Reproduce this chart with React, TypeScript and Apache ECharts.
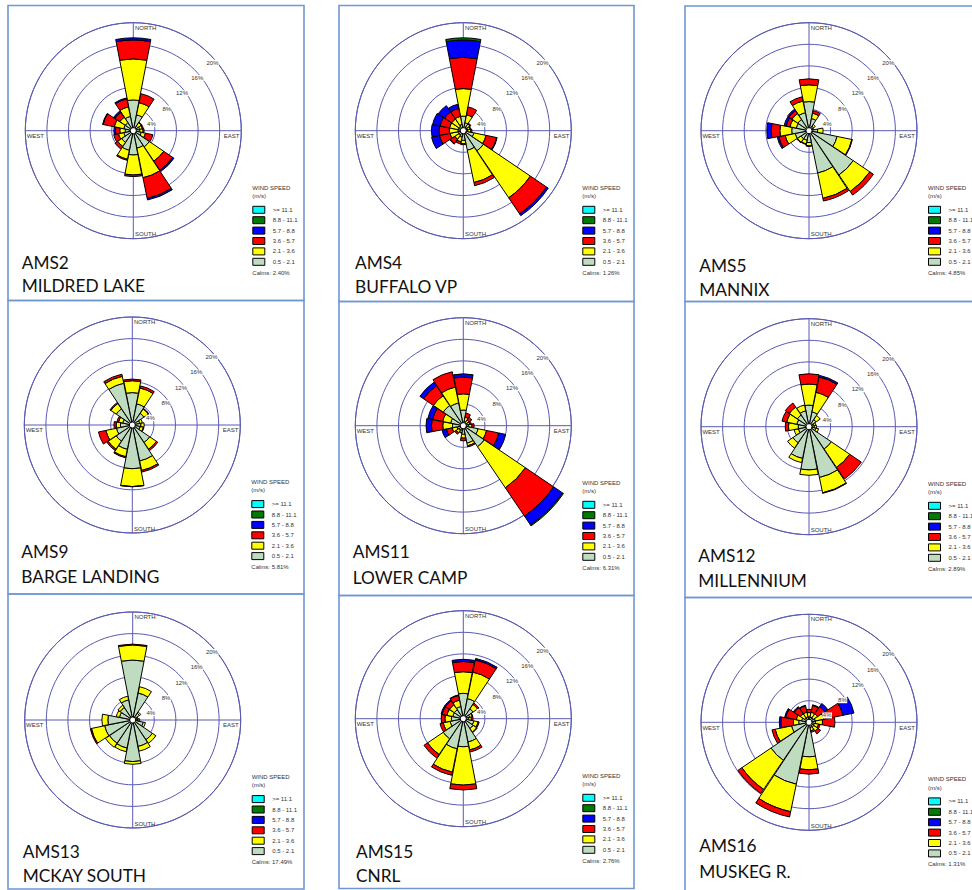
import React, { useEffect, useRef } from 'react';
import * as echarts from 'echarts';

// ---------- categories / labels ----------
const directions = ['N', 'NNE', 'NE', 'ENE', 'E', 'ESE', 'SE', 'SSE', 'S', 'SSW', 'SW', 'WSW', 'W', 'WNW', 'NW', 'NNW'];
const speedClasses = ['0.5 - 2.1', '2.1 - 3.6', '3.6 - 5.7', '5.7 - 8.8', '8.8 - 11.1', '>= 11.1'];
const ringTicks = [4, 8, 12, 16, 20];
const compassLabels = ['NORTH', 'EAST', 'SOUTH', 'WEST'];

const stationIds = ['AMS2', 'AMS4', 'AMS5', 'AMS9', 'AMS11', 'AMS12', 'AMS13', 'AMS15', 'AMS16'];
const stationNames = ['MILDRED LAKE', 'BUFFALO VP', 'MANNIX', 'BARGE LANDING', 'LOWER CAMP', 'MILLENNIUM', 'MCKAY SOUTH', 'CNRL', 'MUSKEG R.'];
const calms = ['2.40', '1.26', '4.85', '5.81', '6.31', '2.89', '17.49', '2.76', '1.31'];

// ---------- frequencies (%) by direction, one array per speed class ----------
const zeros = [0, 0, 0, 0, 0, 0, 0, 0, 0, 0, 0, 0, 0, 0, 0, 0];

const ams2_05 = [5.7, 3.0, 1.0, 1.2, 1.2, 1.5, 3.6, 3.3, 4.5, 3.7, 2.6, 1.8, 1.5, 1.8, 1.8, 2.7];
const ams2_21 = [7.6, 2.3, 0.8, 0.5, 0.6, 0.8, 3.2, 5.6, 3.7, 1.7, 0.9, 1.0, 1.0, 1.8, 1.2, 1.8];
const ams2_36 = [3.5, 1.7, 0.1, 0.2, 0.2, 1.4, 2.0, 3.9, 0.3, 0.2, 0.6, 0.9, 0.8, 2.1, 1.1, 1.5];
const ams2_57 = [0.4, 0, 0, 0, 0, 0, 0.3, 0.3, 0, 0, 0, 0, 0.3, 0.1, 0.3, 0.2];

const ams4_05 = [2.7, 1.5, 0.8, 0.8, 0.8, 2.0, 4.5, 3.7, 1.8, 1.2, 1.0, 1.0, 1.0, 1.0, 1.0, 1.2];
const ams4_21 = [5.1, 1.5, 0.7, 0.5, 0.6, 2.3, 10.5, 6.1, 0.6, 0.9, 0.9, 1.5, 1.6, 1.6, 1.6, 1.5];
const ams4_36 = [5.8, 1.5, 0.2, 0.1, 0.2, 2.0, 3.6, 0.6, 0.2, 0.4, 1.0, 2.0, 1.9, 1.8, 1.6, 1.5];
const ams4_57 = [3.2, 0, 0, 0, 0, 0.1, 0.4, 0, 0, 0, 0.1, 1.5, 1.4, 1.4, 1.4, 0.8];
const ams4_88 = [0.4, 0, 0, 0, 0, 0, 0, 0, 0, 0, 0, 0, 0, 0, 0, 0];

const ams5_05 = [5.4, 2.3, 1.0, 0.7, 1.6, 5.3, 9.9, 8.0, 2.2, 1.8, 1.8, 2.6, 3.2, 2.4, 2.5, 3.4];
const ams5_21 = [3.1, 1.0, 0.4, 0.2, 1.0, 2.8, 3.7, 4.8, 0.6, 0.7, 0.8, 1.9, 2.2, 1.2, 1.3, 2.2];
const ams5_36 = [1.1, 0.5, 0, 0, 0, 0.1, 0.8, 0.5, 0.1, 0.1, 0.1, 1.2, 1.6, 0.7, 0.7, 0.8];
const ams5_57 = [0, 0, 0, 0, 0, 0, 0, 0, 0, 0, 0, 0.3, 0.8, 0.4, 0.3, 0];

const ams9_05 = [6.0, 4.0, 2.6, 1.4, 1.6, 1.5, 3.9, 6.8, 8.1, 4.6, 3.6, 3.0, 2.2, 1.8, 3.6, 7.9];
const ams9_21 = [2.2, 3.0, 1.0, 0.5, 0.6, 0.6, 1.5, 1.8, 3.3, 1.4, 1.8, 2.0, 0.8, 0.8, 1.2, 1.3];
const ams9_36 = [0.3, 0.4, 0.1, 0, 0, 0.1, 0.3, 0.3, 0.05, 0.2, 0.3, 1.4, 0.4, 0.3, 0.2, 0.4];

const ams11_05 = [2.9, 0.8, 0.7, 0.8, 1.0, 2.8, 4.7, 3.3, 1.6, 0.9, 1.0, 1.2, 2.0, 2.4, 4.5, 4.3];
const ams11_21 = [3.0, 0.8, 0.6, 0.4, 0.6, 1.6, 9.2, 0.5, 0.7, 0.4, 0.6, 0.9, 1.8, 1.5, 2.2, 3.0];
const ams11_36 = [3.1, 0.8, 0.6, 0.3, 0.4, 2.3, 6.3, 0.2, 0.5, 0.1, 0.3, 1.1, 2.1, 1.9, 2.2, 2.9];
const ams11_57 = [0.6, 0, 0, 0, 0, 1.3, 2.0, 0, 0, 0, 0, 0.8, 1.0, 0.9, 0.8, 0];
const ams11_88 = [0, 0, 0, 0, 0, 0, 0.2, 0, 0, 0, 0, 0, 0, 0, 0, 0];

const ams12_05 = [4.0, 2.8, 1.6, 0.9, 1.0, 1.3, 5.0, 9.6, 8.0, 6.0, 3.6, 2.0, 2.0, 2.3, 2.6, 3.0];
const ams12_21 = [3.9, 3.7, 0.9, 0.4, 0.4, 0.5, 4.1, 2.9, 1.0, 0.8, 1.2, 0.8, 1.8, 1.9, 1.8, 1.1];
const ams12_36 = [1.9, 2.9, 0, 0, 0, 0, 2.6, 0.1, 0, 0, 0, 0, 0.6, 0.9, 0.9, 0];
const ams12_57 = [0, 0.3, 0, 0, 0, 0, 0, 0, 0, 0, 0, 0, 0, 0, 0, 0];

const ams13_05 = [11.1, 5.1, 1.5, 0.8, 1.0, 2.0, 4.4, 5.0, 7.7, 5.3, 5.2, 5.3, 4.6, 2.5, 2.8, 3.8];
const ams13_21 = [2.8, 1.2, 0.3, 0.2, 0.3, 0.4, 0.8, 0.9, 0.5, 0.7, 0.9, 2.5, 1.1, 0.6, 0.5, 0.7];
const ams13_36 = [0.15, 0, 0, 0, 0, 0, 0, 0, 0, 0, 0, 0.2, 0, 0, 0, 0];

const ams15_05 = [4.7, 3.8, 2.2, 1.2, 1.0, 2.0, 2.2, 4.4, 5.2, 5.7, 4.5, 2.5, 2.2, 2.0, 2.0, 2.3];
const ams15_21 = [4.0, 5.0, 1.0, 0.5, 0.5, 0.8, 0.8, 1.5, 7.1, 4.4, 3.5, 1.3, 1.2, 1.1, 1.1, 1.2];
const ams15_36 = [1.9, 2.3, 0.3, 0.1, 0.3, 0.2, 0.1, 0.4, 0.9, 0.6, 0.8, 0.6, 0.7, 0.9, 0.9, 0.9];
const ams15_57 = [0.4, 0.3, 0, 0, 0, 0, 0, 0, 0, 0, 0, 0, 0, 0.2, 0.2, 0.1];

const ams16_05 = [1.0, 1.0, 1.0, 1.2, 1.2, 1.0, 1.1, 1.0, 6.4, 11.7, 8.5, 3.3, 1.9, 1.4, 1.0, 1.0];
const ams16_21 = [0.8, 0.9, 0.9, 1.6, 1.3, 0.8, 0.9, 0.6, 2.4, 5.2, 6.5, 3.1, 1.0, 1.0, 0.9, 0.9];
const ams16_36 = [0.6, 1.3, 1.6, 3.6, 2.3, 0.3, 0.6, 0.3, 0.8, 1.0, 0.9, 0.6, 2.3, 2.0, 1.4, 1.2];
const ams16_57 = [0, 0.1, 0.7, 2.1, 0, 0, 0, 0, 0, 0, 0, 0, 0.3, 0.2, 0.2, 0.1];

const stationData = [
  [ams2_05, ams2_21, ams2_36, ams2_57, zeros, zeros],
  [ams4_05, ams4_21, ams4_36, ams4_57, ams4_88, zeros],
  [ams5_05, ams5_21, ams5_36, ams5_57, zeros, zeros],
  [ams9_05, ams9_21, ams9_36, zeros, zeros, zeros],
  [ams11_05, ams11_21, ams11_36, ams11_57, ams11_88, zeros],
  [ams12_05, ams12_21, ams12_36, ams12_57, zeros, zeros],
  [ams13_05, ams13_21, ams13_36, zeros, zeros, zeros],
  [ams15_05, ams15_21, ams15_36, ams15_57, zeros, zeros],
  [ams16_05, ams16_21, ams16_36, ams16_57, zeros, zeros],
];

// ---------- layout (page pixels) ----------
const panels = [
  { cx: 133.3, cy: 130.7, box: [8, 5.5, 304, 300.5], tx: 21.7, t1: 262.5, t2: 285.5 },
  { cx: 463.3, cy: 130.7, box: [339, 5.5, 634, 301.5], tx: 355, t1: 262.5, t2: 286 },
  { cx: 809, cy: 130.7, box: [685, 6, 990, 301.5], tx: 699.3, t1: 265, t2: 289.7 },
  { cx: 132.3, cy: 425, box: [8, 300.5, 304, 594], tx: 21.3, t1: 551.7, t2: 576.3 },
  { cx: 463.3, cy: 425.7, box: [339, 301.5, 634, 595.5], tx: 352.7, t1: 551.7, t2: 577 },
  { cx: 809, cy: 426.7, box: [685, 301.5, 990, 597.5], tx: 698.3, t1: 555.5, t2: 580 },
  { cx: 132.7, cy: 720, box: [8, 594, 304, 889], tx: 22.7, t1: 851.2, t2: 875.3 },
  { cx: 463.3, cy: 718.7, box: [339, 595.5, 634, 888.5], tx: 356, t1: 851.3, t2: 875 },
  { cx: 809, cy: 722.3, box: [685, 597.5, 990, 900], tx: 699.3, t1: 845.8, t2: 871.2 },
];

const R = 108;
const FONT = "'Liberation Sans', Arial, sans-serif";
const TITLE_FONT = "Lato, 'Open Sans', sans-serif";
const RING = '#5a5ab2';
const BORDER = '#6f97d2';
const TXT = '#333';
const speedColors = ['#c0dcc0', '#ffff00', '#ff0000', '#0000ff', '#007a00', '#00ffff'];

export default function App() {
  const ref = useRef<HTMLDivElement>(null);
  useEffect(() => {
    const chart = echarts.init(ref.current!, null, { renderer: 'svg' });
    const polar: any[] = [];
    const angleAxis: any[] = [];
    const radiusAxis: any[] = [];
    const series: any[] = [];
    const legend: any[] = [];
    const elements: any[] = [];
    const legendOrder = speedClasses.slice().reverse();

    panels.forEach((p, i) => {
      const pm = 3 * i, pc = 3 * i + 1, pl = 3 * i + 2;
      // main polar: bars + rings
      polar.push({ center: [p.cx, p.cy], radius: R });
      angleAxis.push({
        polarIndex: pm, type: 'category', data: directions, startAngle: 90 + 11.25, clockwise: true,
        boundaryGap: true, axisLine: { show: false }, axisTick: { show: false }, axisLabel: { show: false },
        splitLine: { show: false }, splitArea: { show: false },
      });
      radiusAxis.push({
        polarIndex: pm, type: 'value', min: 0, max: 20, interval: 4,
        axisLine: { show: false }, axisTick: { show: false }, axisLabel: { show: false },
        splitLine: { show: true, lineStyle: { color: RING, width: 1 } }, splitArea: { show: false },
      });
      // cross polar: compass lines + outer circle
      polar.push({ center: [p.cx, p.cy], radius: R });
      angleAxis.push({
        polarIndex: pc, type: 'value', min: 0, max: 360, interval: 90, startAngle: 90, clockwise: true,
        axisLine: { show: true, lineStyle: { color: RING, width: 1 } }, axisTick: { show: false },
        axisLabel: { show: false }, splitLine: { show: true, lineStyle: { color: RING, width: 1 } },
        splitArea: { show: false },
      });
      radiusAxis.push({
        polarIndex: pc, type: 'value', min: 0, max: 20,
        axisLine: { show: false }, axisTick: { show: false }, axisLabel: { show: false },
        splitLine: { show: false }, splitArea: { show: false },
      });
      // label polar: ring percentages
      polar.push({ center: [p.cx - 2.8, p.cy + 2.8], radius: R });
      angleAxis.push({
        polarIndex: pl, type: 'value', min: 0, max: 360, startAngle: 45, clockwise: false,
        axisLine: { show: false }, axisTick: { show: false }, axisLabel: { show: false },
        splitLine: { show: false }, splitArea: { show: false },
      });
      radiusAxis.push({
        polarIndex: pl, type: 'value', min: 0, max: 20, interval: 4, z: 10,
        axisLine: { show: false }, axisTick: { show: false }, splitLine: { show: false }, splitArea: { show: false },
        axisLabel: {
          show: true, showMinLabel: false, margin: -8, align: 'center', verticalAlign: 'middle',
          formatter: (v: number) => (ringTicks.indexOf(v) >= 0 ? v + '%' : ''),
          fontSize: 6, fontFamily: FONT, color: TXT, backgroundColor: '#fff', padding: [0, 0.5],
        },
      });

      stationData[i].forEach((arr, k) => {
        series.push({
          type: 'bar', coordinateSystem: 'polar', polarIndex: pm, name: speedClasses[k],
          stack: 'st' + i, barCategoryGap: '3%', clip: false, silent: true, z: 2,
          data: arr.map((v) => (v > 0 ? v : null)),
          itemStyle: { color: speedColors[k], borderColor: '#000', borderWidth: 1 },
        });
      });
      series.push({
        type: 'scatter', coordinateSystem: 'polar', polarIndex: pm, name: 'calm', silent: true, z: 5,
        data: [[0, 0]], symbol: 'circle', symbolSize: 6,
        itemStyle: { color: '#fff', borderColor: '#000', borderWidth: 1, opacity: 1 },
      });

      legend.push({
        show: true, orient: 'vertical', left: p.cx + 119, top: p.cy + 75.1, padding: 0,
        itemWidth: 12, itemHeight: 7, itemGap: 2.4, icon: 'rect', selectedMode: false,
        data: legendOrder,
        itemStyle: { borderColor: '#000', borderWidth: 1 },
        textStyle: { fontSize: 6, fontFamily: FONT, color: TXT, padding: [0, 0, 0, 3] },
      });

      const [x0, y0, x1, y1] = p.box;
      elements.push({
        type: 'rect', z: 0, silent: true,
        shape: { x: x0, y: y0, width: x1 - x0, height: y1 - y0 },
        style: { fill: 'none', stroke: BORDER, lineWidth: 1.6 },
      });
      const small = (text: string, x: number, y: number, align = 'left') => ({
        type: 'text', z: 20, silent: true, x, y,
        style: { text, fill: TXT, fontSize: 6, fontFamily: FONT, align, verticalAlign: 'middle' },
      });
      elements.push(small(compassLabels[0], p.cx + 1.7, p.cy - 103));
      elements.push(small(compassLabels[1], p.cx + 106, p.cy + 5.3, 'right'));
      elements.push(small(compassLabels[2], p.cx + 1.7, p.cy + 103.6));
      elements.push(small(compassLabels[3], p.cx - 106.6, p.cy + 5.3));
      elements.push(small('WIND SPEED', p.cx + 119, p.cy + 57));
      elements.push(small('(m/s)', p.cx + 119, p.cy + 65.3));
      elements.push(small('Calms: ' + calms[i] + '%', p.cx + 119, p.cy + 142));
      const big = (text: string, y: number) => ({
        type: 'text', z: 20, silent: true, x: p.tx, y,
        style: { text, fill: '#111', fontSize: 17.3, fontFamily: TITLE_FONT, align: 'left', verticalAlign: 'middle' },
      });
      elements.push(big(stationIds[i], p.t1));
      elements.push(big(stationNames[i], p.t2));
    });

    chart.setOption({
      animation: false,
      backgroundColor: '#fff',
      tooltip: { show: false },
      polar, angleAxis, radiusAxis, series, legend,
      graphic: { elements },
    });
    return () => chart.dispose();
  }, []);
  return (
    <div style={{ position: 'fixed', left: 0, top: 0, width: 972, height: 890, background: '#fff' }}>
      <div ref={ref} style={{ width: 972, height: 890 }} />
    </div>
  );
}
